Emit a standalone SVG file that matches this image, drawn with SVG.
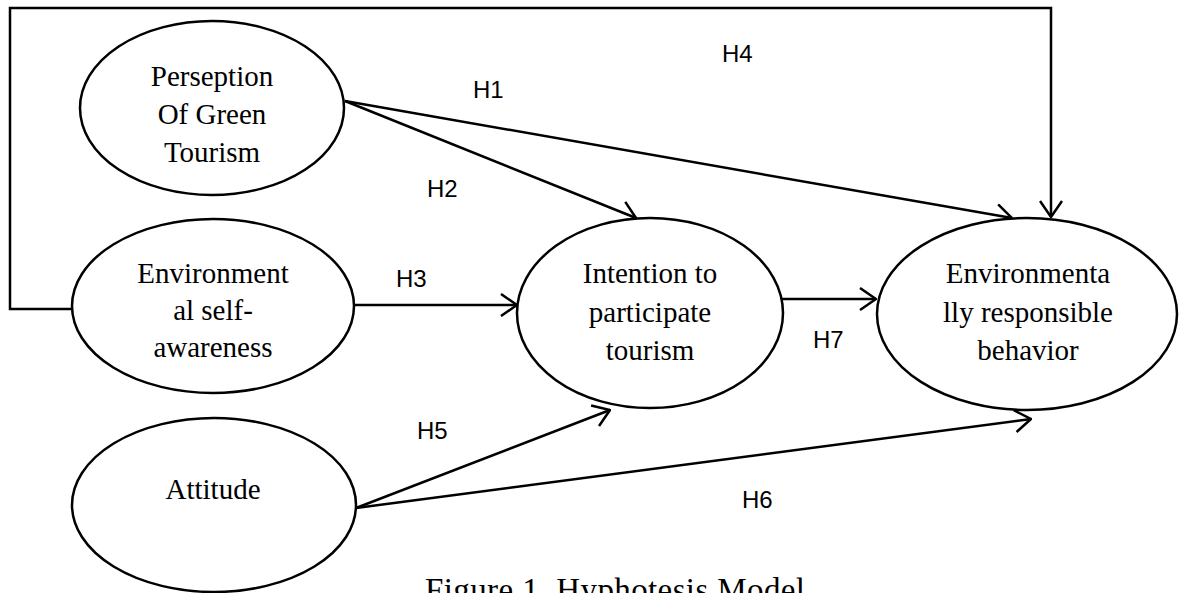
<svg xmlns="http://www.w3.org/2000/svg" width="1179" height="593" viewBox="0 0 1179 593">
<style>
.node ellipse{fill:#fff;stroke:#000;stroke-width:2.5}
.nt{font-family:"Liberation Serif","Times New Roman",serif;font-size:29px;fill:#000;text-anchor:middle}
.lbl{font-family:"Liberation Sans",Arial,sans-serif;font-size:24px;fill:#000}
.conn{fill:none;stroke:#000;stroke-width:2.5}
.cap{font-family:"Liberation Serif","Times New Roman",serif;font-size:33px;fill:#000}
</style>
<defs>
<marker id="arr" viewBox="0 0 18 24" refX="17" refY="12" markerWidth="18" markerHeight="24" markerUnits="userSpaceOnUse" orient="auto">
<path d="M1,1 L17,12 L1,23" fill="none" stroke="#000" stroke-width="2.5"/>
</marker>
</defs>
<rect width="1179" height="593" fill="#fff"/>
<g id="connectors">
<polyline class="conn" points="72,309 10,309 10,8 1051,8 1051,217" marker-end="url(#arr)"/>
<line class="conn" x1="345" y1="101" x2="1012" y2="218" marker-end="url(#arr)"/>
<line class="conn" x1="345" y1="101" x2="636" y2="218" marker-end="url(#arr)"/>
<line class="conn" x1="355" y1="305" x2="517" y2="305" marker-end="url(#arr)"/>
<line class="conn" x1="356" y1="508" x2="610" y2="410" marker-end="url(#arr)"/>
<line class="conn" x1="356" y1="508" x2="1031" y2="419" marker-end="url(#arr)"/>
<line class="conn" x1="781" y1="299" x2="876" y2="299" marker-end="url(#arr)"/>
</g>
<g id="node-perception" class="node">
<ellipse cx="212" cy="108" rx="132" ry="87"/>
<text class="nt" x="212" y="86">Perseption</text>
<text class="nt" x="212" y="124">Of Green</text>
<text class="nt" x="212" y="162">Tourism</text>
</g>
<g id="node-awareness" class="node">
<ellipse cx="213" cy="306" rx="141" ry="87"/>
<text class="nt" x="213" y="283">Environment</text>
<text class="nt" x="213" y="320">al self-</text>
<text class="nt" x="213" y="357">awareness</text>
</g>
<g id="node-attitude" class="node">
<ellipse cx="214" cy="505" rx="142" ry="87"/>
<text class="nt" x="213" y="499">Attitude</text>
</g>
<g id="node-intention" class="node">
<ellipse cx="650" cy="313" rx="133" ry="95"/>
<text class="nt" x="650" y="283">Intention to</text>
<text class="nt" x="650" y="322">participate</text>
<text class="nt" x="650" y="360">tourism</text>
</g>
<g id="node-behavior" class="node">
<ellipse cx="1027" cy="314" rx="150" ry="96"/>
<text class="nt" x="1028" y="283">Environmenta</text>
<text class="nt" x="1028" y="322">lly responsible</text>
<text class="nt" x="1028" y="360">behavior</text>
</g>
<g id="labels">
<text class="lbl" x="722" y="62">H4</text>
<text class="lbl" x="473" y="98">H1</text>
<text class="lbl" x="427" y="197">H2</text>
<text class="lbl" x="396" y="287">H3</text>
<text class="lbl" x="417" y="439">H5</text>
<text class="lbl" x="742" y="508">H6</text>
<text class="lbl" x="813" y="348">H7</text>
</g>
<text class="cap" x="425" y="601" textLength="380">Figure 1. Hyphotesis Model</text>
</svg>
